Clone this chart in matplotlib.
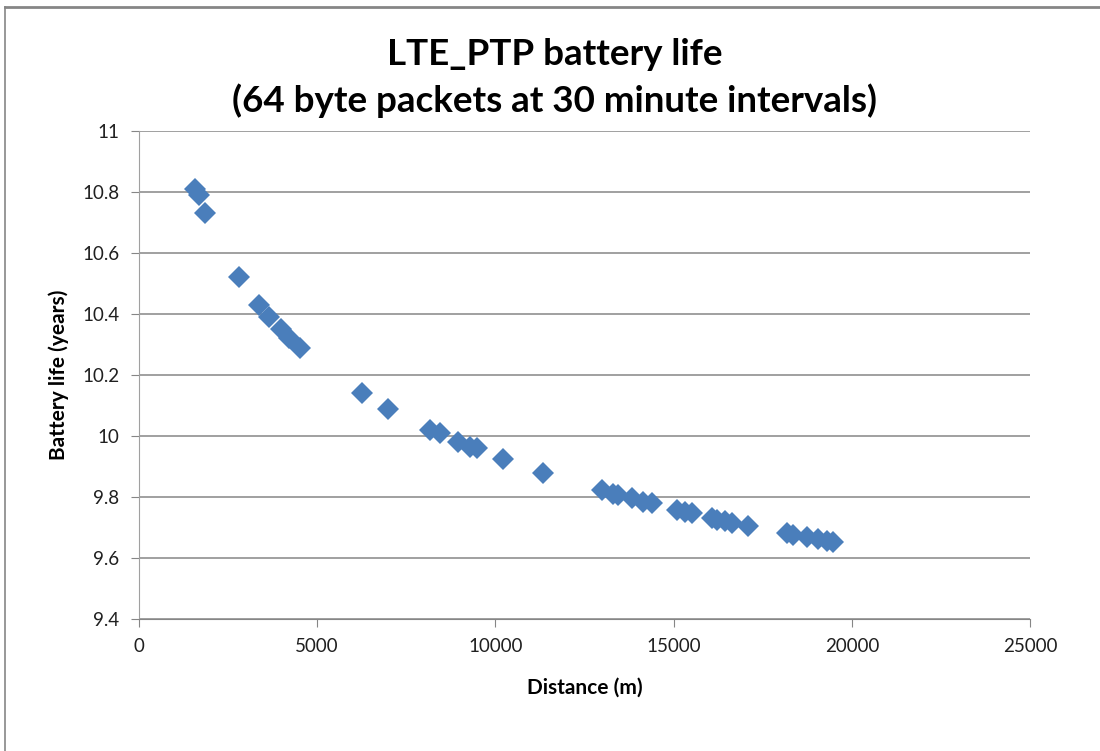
import matplotlib.pyplot as plt
from matplotlib.lines import Line2D

# distance (m) vs battery life (years)
distance = [1570, 1680, 1850, 2800, 3370, 3650, 3990, 4210, 4520,
            6260, 6990, 8170, 8450, 8950, 9290, 9480, 10210, 11340,
            12990, 13300, 13440, 13830, 14140, 14400, 15100, 15320, 15520,
            16080, 16220, 16440, 16640, 17090, 18180, 18350, 18740, 19050,
            19300, 19470]
battery = [10.81, 10.79, 10.73, 10.52, 10.43, 10.39, 10.35, 10.32, 10.29,
           10.14, 10.09, 10.02, 10.01, 9.98, 9.965, 9.96, 9.925, 9.88,
           9.823, 9.81, 9.805, 9.797, 9.785, 9.78, 9.757, 9.752, 9.748,
           9.732, 9.726, 9.72, 9.716, 9.704, 9.682, 9.677, 9.67, 9.661,
           9.655, 9.653]

xticks = [0, 5000, 10000, 15000, 20000, 25000]
yticks = [9.4, 9.6, 9.8, 10, 10.2, 10.4, 10.6, 10.8, 11]
ytick_labels = ['9.4', '9.6', '9.8', '10', '10.2', '10.4', '10.6', '10.8', '11']

plt.rcParams['font.family'] = ['Lato', 'DejaVu Sans']

W, H = 1100, 751
fig = plt.figure(figsize=(W / 100, H / 100), dpi=100)
ax = fig.add_axes([139 / W, 1 - 619 / H, (1030 - 139) / W, (619 - 131) / H])

ax.plot(distance, battery, linestyle='none', marker='D', markersize=11,
        color='#4a7ebb', markeredgewidth=0, zorder=3)

ax.set_xlim(0, 25000)
ax.set_ylim(9.4, 11)
ax.set_xticks(xticks)
ax.set_yticks(yticks)
ax.set_yticklabels(ytick_labels)
ax.grid(axis='y', color='#868686', linewidth=1.1)
ax.set_axisbelow(True)
for s in ['top', 'right']:
    ax.spines[s].set_visible(False)
ax.spines['left'].set_color('#a0a0a0')
ax.spines['bottom'].set_color('#868686')
ax.tick_params(axis='both', direction='out', length=6, color='#868686',
               labelsize=13.5, labelcolor='#202020', pad=8)

ax.set_xlabel('Distance (m)', fontsize=15, fontweight='bold', labelpad=16)
ax.set_ylabel('Battery life (years)', fontsize=15, fontweight='bold', labelpad=10)

fig.text(555 / W, 1 - 78 / H, 'LTE_PTP battery life\n(64 byte packets at 30 minute intervals)',
         ha='center', va='center', fontsize=26.5, fontweight='bold', linespacing=1.4)

# chart frame
fig.add_artist(Line2D([5 / W, 1], [1 - 7 / H, 1 - 7 / H], color='#868686', linewidth=2))
fig.add_artist(Line2D([5 / W, 5 / W], [0, 1 - 7 / H], color='#868686', linewidth=1.2))

fig.savefig('out.png', dpi=100)
